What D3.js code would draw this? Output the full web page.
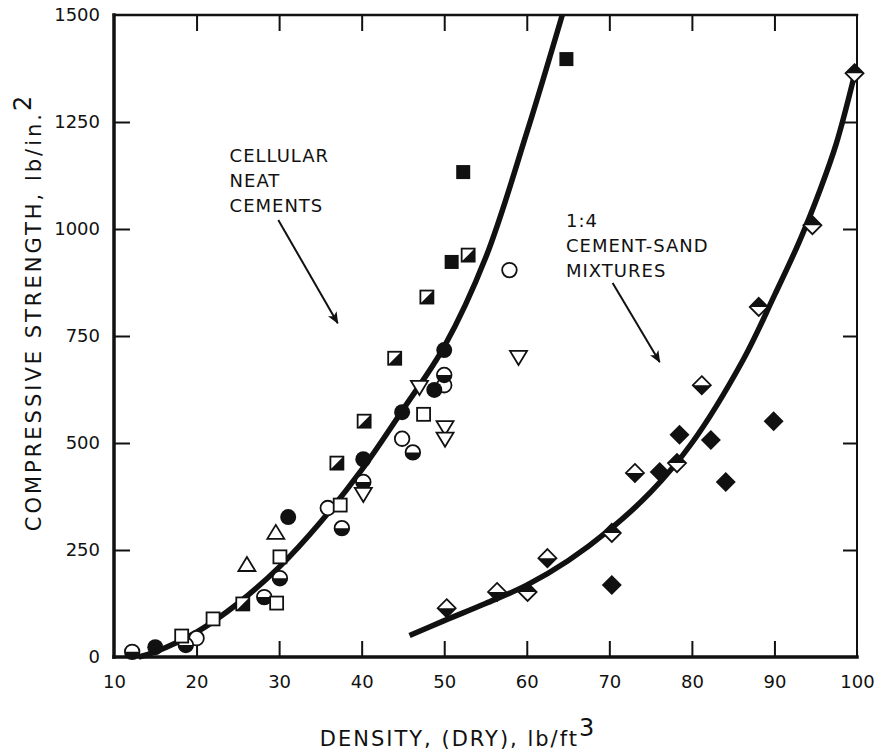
<!DOCTYPE html>
<html>
<head>
<meta charset="utf-8">
<script src="https://cdn.jsdelivr.net/npm/d3@7"></script>
<style>
  body { margin: 0; background: #fff; }
  text { font-family: "DejaVu Sans", sans-serif; fill: #111; }
</style>
</head>
<body>
<svg id="chart"></svg>
<script>
// axis ticks
const xTicks = [10, 20, 30, 40, 50, 60, 70, 80, 90, 100];
const yTicks = [0, 250, 500, 750, 1000, 1250, 1500];

// cellular neat cements, one array per plotting symbol [density, strength]
const openCircle = [[20.0, 44], [35.9, 348], [44.9, 510], [50.0, 635], [57.9, 904]];
const filledCircle = [[15.0, 23], [31.1, 327], [40.2, 462], [44.9, 572], [48.8, 624], [50.0, 717]];
const halfCircle = [[12.2, 12], [18.7, 28], [28.2, 140], [30.1, 184], [37.6, 301], [40.2, 409], [46.2, 478], [50.0, 659]];
const openSquare = [[18.2, 49], [22.0, 89], [29.7, 126], [30.1, 234], [37.4, 355], [47.5, 567]];
const filledSquare = [[50.9, 923], [52.3, 1133], [64.8, 1397]];
const halfSquare = [[25.6, 124], [37.0, 453], [40.3, 551], [44.0, 698], [47.9, 841], [52.9, 939]];
const triangleUp = [[26.1, 215], [29.6, 290]];
const triangleDown = [[40.2, 381], [47.0, 631], [50.1, 537], [50.1, 510], [59.0, 701]];

// 1:4 cement-sand mixtures
const diamondLowHalf = [[50.3, 114], [56.4, 152], [62.5, 231], [73.1, 430], [81.2, 635]];
const diamondTopHalf = [[60.1, 152], [70.3, 290], [78.2, 453], [88.1, 818], [94.6, 1009], [99.7, 1364]];
const filledDiamond = [[70.3, 168], [76.1, 432], [78.5, 519], [82.3, 507], [84.1, 409], [89.9, 551]];

// fitted curves
const cellularCurve = [[13, 0], [15, 12], [20, 58], [25, 125], [30, 210], [35, 315], [40, 437], [45, 578], [50, 725], [55, 932], [60, 1225], [64.3, 1500]];
const sandCurve = [[45.8, 50], [50, 85], [55, 125], [60, 168], [65, 225], [70, 297], [75, 385], [80, 500], [86.2, 694], [90, 845], [93, 970], [95.5, 1090], [97.5, 1200], [99.7, 1360]];

// annotations: text lines, label anchor and arrow ends in data units
const cellularLabel = ["CELLULAR", "NEAT", "CEMENTS"];
const cellularAt = [24.0, 1157];
const cellularArrow = [[29.9, 1021], [37.1, 780]];
const sandLabel = ["1:4", "CEMENT-SAND", "MIXTURES"];
const sandAt = [64.75, 1005];
const sandArrow = [[70.4, 874], [76.1, 689]];

const W = 877, H = 752;
const margin = { top: 15, right: 20, bottom: 95, left: 114 };

const svg = d3.select("#chart").attr("width", W).attr("height", H);

const x = d3.scaleLinear().domain([10, 100]).range([margin.left, W - margin.right]);
const y = d3.scaleLinear().domain([0, 1500]).range([H - margin.bottom, margin.top]);

const x0 = x(10), x1 = x(100), y0 = y(0), y1 = y(1500);

// axes with inward ticks
function styleAxis(g) {
  g.select(".domain").remove();
  g.selectAll(".tick line").attr("stroke", "#111").attr("stroke-width", 2);
  g.selectAll(".tick text").style("font-size", "18px");
}

svg.append("g").attr("transform", `translate(0,${y0})`)
  .call(d3.axisBottom(x).tickValues(xTicks).tickSize(-16).tickPadding(18).tickFormat(d3.format("d")))
  .call(styleAxis)
  .call(g => g.selectAll(".tick").filter(d => d === 10 || d === 100).select("line").remove());

svg.append("g").attr("transform", `translate(0,${y1})`)
  .call(d3.axisTop(x).tickValues(xTicks.slice(1, -1)).tickSize(-16).tickFormat(""))
  .call(styleAxis);

svg.append("g").attr("transform", `translate(${x0},0)`)
  .call(d3.axisLeft(y).tickValues(yTicks).tickSize(-16).tickPadding(14).tickFormat(d3.format("d")))
  .call(styleAxis)
  .call(g => g.selectAll(".tick").filter(d => d === 0 || d === 1500).select("line").remove());

svg.append("g").attr("transform", `translate(${x1},0)`)
  .call(d3.axisRight(y).tickValues(yTicks.slice(1, -1)).tickSize(-14).tickFormat(""))
  .call(styleAxis);

// frame
const frame = svg.append("g").attr("stroke", "#111").attr("stroke-linecap", "square");
frame.append("line").attr("x1", x0).attr("x2", x1).attr("y1", y0).attr("y2", y0).attr("stroke-width", 3.5);
frame.append("line").attr("x1", x0).attr("x2", x0).attr("y1", y0).attr("y2", y1).attr("stroke-width", 3.5);
frame.append("line").attr("x1", x0).attr("x2", x1).attr("y1", y1).attr("y2", y1).attr("stroke-width", 2.5);
frame.append("line").attr("x1", x1).attr("x2", x1).attr("y1", y0).attr("y2", y1).attr("stroke-width", 2);

// axis titles
svg.append("text")
  .attr("transform", `translate(41,312) rotate(-90)`)
  .attr("text-anchor", "middle")
  .style("font-size", "21px")
  .style("letter-spacing", "3px")
  .text("COMPRESSIVE STRENGTH, lb/in.")
  .append("tspan").attr("dy", -10).style("font-size", "24px").text("2");

svg.append("text")
  .attr("x", 458).attr("y", 746)
  .attr("text-anchor", "middle")
  .style("font-size", "21px")
  .style("letter-spacing", "2px")
  .text("DENSITY, (DRY),  lb/ft")
  .append("tspan").attr("dy", -10).style("font-size", "24px").text("3");

// curves
const line = d3.line().x(d => x(d[0])).y(d => y(d[1])).curve(d3.curveCatmullRom.alpha(0.5));
svg.append("path").datum(cellularCurve).attr("d", line)
  .attr("fill", "none").attr("stroke", "#111").attr("stroke-width", 5.5).attr("stroke-linecap", "butt");
svg.append("path").datum(sandCurve).attr("d", line)
  .attr("fill", "none").attr("stroke", "#111").attr("stroke-width", 5.5).attr("stroke-linecap", "butt");

// annotations
function annotate(lines, at, arrow) {
  const t = svg.append("text").attr("x", x(at[0])).attr("y", y(at[1]))
    .style("font-size", "18px").style("letter-spacing", "1px");
  lines.forEach((s, i) => t.append("tspan").attr("x", x(at[0])).attr("dy", i ? 25 : 0).text(s));
  svg.append("line")
    .attr("x1", x(arrow[0][0])).attr("y1", y(arrow[0][1]))
    .attr("x2", x(arrow[1][0])).attr("y2", y(arrow[1][1]))
    .attr("stroke", "#111").attr("stroke-width", 2)
    .attr("marker-end", "url(#head)");
}
svg.append("defs").append("marker")
  .attr("id", "head").attr("viewBox", "0 0 12 10").attr("refX", 11).attr("refY", 5)
  .attr("markerWidth", 12).attr("markerHeight", 10).attr("markerUnits", "userSpaceOnUse")
  .attr("orient", "auto")
  .append("path").attr("d", "M0,0 L12,5 L0,10 L3,5 Z").attr("fill", "#111");
annotate(cellularLabel, cellularAt, cellularArrow);
annotate(sandLabel, sandAt, sandArrow);

// symbols
const ink = "#111";
const shapes = {
  openCircle: g => g.append("circle").attr("r", 7.3).attr("fill", "#fff").attr("stroke", ink).attr("stroke-width", 1.8),
  filledCircle: g => g.append("circle").attr("r", 8).attr("fill", ink),
  halfCircle: g => {
    g.append("circle").attr("r", 7.3).attr("fill", "#fff").attr("stroke", ink).attr("stroke-width", 1.8);
    g.append("path").attr("d", "M-7.3,0 A7.3,7.3 0 0 0 7.3,0 Z").attr("fill", ink);
  },
  openSquare: g => g.append("rect").attr("x", -6.5).attr("y", -6.5).attr("width", 13).attr("height", 13)
    .attr("fill", "#fff").attr("stroke", ink).attr("stroke-width", 1.8),
  filledSquare: g => g.append("rect").attr("x", -7).attr("y", -7).attr("width", 14).attr("height", 14).attr("fill", ink),
  halfSquare: g => {
    g.append("rect").attr("x", -6.5).attr("y", -6.5).attr("width", 13).attr("height", 13)
      .attr("fill", "#fff").attr("stroke", ink).attr("stroke-width", 1.8);
    g.append("path").attr("d", "M6.5,-6.5 L6.5,6.5 L-6.5,6.5 Z").attr("fill", ink);
  },
  triangleUp: g => g.append("path").attr("d", "M0,-8 L8.5,6 L-8.5,6 Z")
    .attr("fill", "#fff").attr("stroke", ink).attr("stroke-width", 1.8),
  triangleDown: g => g.append("path").attr("d", "M-8.5,-6 L8.5,-6 L0,8 Z")
    .attr("fill", "#fff").attr("stroke", ink).attr("stroke-width", 1.8),
  diamondLowHalf: g => {
    g.append("path").attr("d", "M0,-9 L9,0 L0,9 L-9,0 Z").attr("fill", "#fff").attr("stroke", ink).attr("stroke-width", 1.8);
    g.append("path").attr("d", "M-9,0 L0,9 L9,0 Z").attr("fill", ink);
  },
  diamondTopHalf: g => {
    g.append("path").attr("d", "M0,-9 L9,0 L0,9 L-9,0 Z").attr("fill", "#fff").attr("stroke", ink).attr("stroke-width", 1.8);
    g.append("path").attr("d", "M-9,0 L0,-9 L9,0 Z").attr("fill", ink);
  },
  filledDiamond: g => g.append("path").attr("d", "M0,-10 L10,0 L0,10 L-10,0 Z").attr("fill", ink)
};

const groups = [
  ["openCircle", openCircle], ["filledCircle", filledCircle], ["halfCircle", halfCircle],
  ["openSquare", openSquare], ["filledSquare", filledSquare], ["halfSquare", halfSquare],
  ["triangleUp", triangleUp], ["triangleDown", triangleDown],
  ["diamondLowHalf", diamondLowHalf], ["diamondTopHalf", diamondTopHalf], ["filledDiamond", filledDiamond]
];

groups.forEach(([name, pts]) => {
  svg.append("g").attr("class", name)
    .selectAll("g").data(pts).join("g")
    .attr("transform", d => `translate(${x(d[0])},${y(d[1])})`)
    .each(function() { shapes[name](d3.select(this)); });
});
</script>
</body>
</html>
